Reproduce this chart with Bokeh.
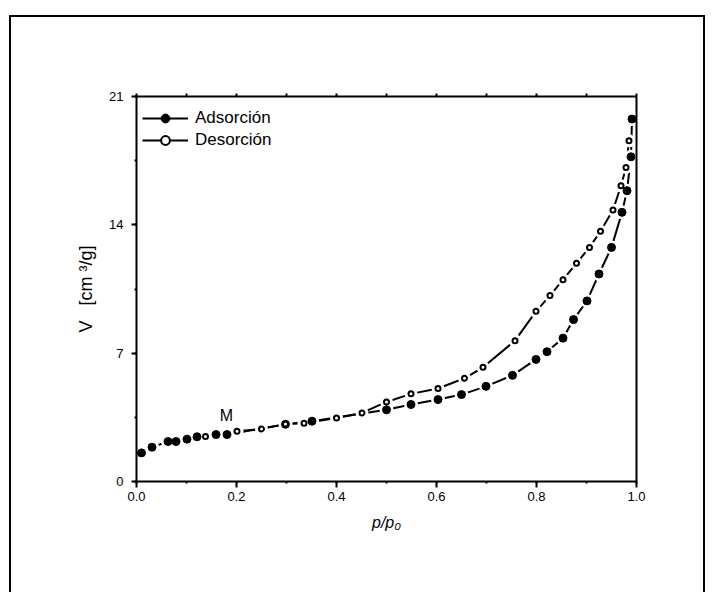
from bokeh.plotting import figure
from bokeh.models import (Range1d, LinearAxis, SingleIntervalTicker, FixedTicker,
                          PrintfTickFormatter, Legend, LegendItem, Label)
from bokeh.embed import file_html
from bokeh.resources import INLINE

# ---- data ----
ads_x = [0.010, 0.031, 0.063, 0.079, 0.101, 0.121, 0.159, 0.181, 0.298, 0.351,
         0.500, 0.549, 0.603, 0.650, 0.699, 0.752, 0.799, 0.821, 0.853, 0.874,
         0.901, 0.925, 0.950, 0.971, 0.981, 0.989, 0.991]
ads_y = [1.56, 1.87, 2.18, 2.18, 2.31, 2.44, 2.56, 2.56, 3.12, 3.29,
         3.91, 4.20, 4.47, 4.74, 5.19, 5.79, 6.66, 7.08, 7.82, 8.83,
         9.85, 11.32, 12.77, 14.68, 15.86, 17.71, 19.77]
des_x = [0.985, 0.979, 0.969, 0.953, 0.928, 0.906, 0.880, 0.853, 0.827, 0.799,
         0.757, 0.693, 0.656, 0.603, 0.549, 0.500, 0.451, 0.400, 0.335, 0.298,
         0.250, 0.201, 0.138]
des_y = [18.58, 17.13, 16.13, 14.81, 13.65, 12.77, 11.90, 11.01, 10.14, 9.28,
         7.68, 6.23, 5.63, 5.07, 4.78, 4.34, 3.74, 3.46, 3.18, 3.13,
         2.87, 2.74, 2.45]
series_names = ["Adsorción", "Desorción"]
x_label = "p/p₀"
y_label = "V\u00a0\u00a0\u00a0[cm\u00a0³/g]"
top_minor_ticks = [0.0, 0.1, 0.2, 0.3, 0.4, 0.5, 0.6, 0.7, 0.8, 0.9, 1.0]
note_text = "M"
note_x = 0.18
note_y = 3.6

FONT = "Liberation Sans"

p = figure(frame_width=500, frame_height=385,
           x_range=Range1d(0, 1), y_range=Range1d(0, 21),
           output_backend="svg", toolbar_location=None,
           min_border_left=125, min_border_right=67,
           min_border_top=79, min_border_bottom=111,
           background_fill_color="white", border_fill_color="white")
p.margin = (17, 0, 0, 11)
p.styles = {"outline": "2px solid black"}
p.grid.visible = False
p.outline_line_color = None

# bottom axis
xa = p.xaxis[0]
xa.ticker = SingleIntervalTicker(interval=0.2, num_minor_ticks=2)
xa.formatter = PrintfTickFormatter(format="%.1f")
xa.axis_line_width = 2
xa.major_tick_line_width = 2
xa.major_tick_out = 6
xa.major_tick_in = 0
xa.minor_tick_out = 2
xa.minor_tick_in = 0
xa.minor_tick_line_width = 2
xa.major_label_text_font = FONT
xa.major_label_text_font_size = "13px"
xa.major_label_text_color = "black"
xa.major_label_standoff = 4
xa.axis_label = x_label
xa.axis_label_text_font = FONT
xa.axis_label_text_font_style = "italic"
xa.axis_label_text_font_size = "16px"
xa.axis_label_text_color = "black"
xa.axis_label_standoff = 10

# left axis
ya = p.yaxis[0]
ya.ticker = SingleIntervalTicker(interval=7, num_minor_ticks=2)
ya.formatter = PrintfTickFormatter(format="%d")
ya.axis_line_width = 2
ya.major_tick_line_width = 2
ya.major_tick_out = 5
ya.major_tick_in = 0
ya.minor_tick_out = 2
ya.minor_tick_in = 0
ya.minor_tick_line_width = 2
ya.major_label_text_font = FONT
ya.major_label_text_font_size = "13px"
ya.major_label_text_color = "black"
ya.major_label_standoff = 8
ya.axis_label = y_label
ya.axis_label_text_font = FONT
ya.axis_label_text_font_style = "normal"
ya.axis_label_text_font_size = "18px"
ya.axis_label_text_color = "black"
ya.axis_label_standoff = 10

# top axis: only small tick marks, no labels
ta = LinearAxis(ticker=FixedTicker(ticks=[], minor_ticks=top_minor_ticks),
                axis_line_width=2, minor_tick_out=3, minor_tick_in=0,
                minor_tick_line_width=2)
p.add_layout(ta, "above")
# right axis: plain line
ra = LinearAxis(ticker=FixedTicker(ticks=[], minor_ticks=[]), axis_line_width=2)
p.add_layout(ra, "right")

# lines
l1 = p.line(ads_x, ads_y, line_color="black", line_width=2)
l2 = p.line(des_x, des_y, line_color="black", line_width=2)
# gaps around symbols
p.scatter(ads_x, ads_y, size=14, marker="circle", fill_color="white", line_color=None)
p.scatter(des_x, des_y, size=13, marker="circle", fill_color="white", line_color=None)
# symbols
m1 = p.scatter(ads_x, ads_y, size=8, marker="circle", fill_color="black", line_color="black", line_width=1)
m2 = p.scatter(des_x, des_y, size=5, marker="circle", fill_color="white", line_color="black", line_width=2)

legend = Legend(items=[LegendItem(label=series_names[0], renderers=[l1, m1]),
                       LegendItem(label=series_names[1], renderers=[l2, m2])],
                location=(6, 330), padding=0, margin=0, spacing=0,
                glyph_width=46, glyph_height=22, label_height=22, label_standoff=7,
                label_text_font=FONT, label_text_font_size="17px",
                label_text_color="black",
                border_line_color=None, background_fill_alpha=0)
p.add_layout(legend)

p.add_layout(Label(x=note_x, y=note_y, text=note_text, text_align="center",
                   text_baseline="middle", text_font=FONT, text_font_size="16px",
                   text_color="black"))

open("out.html", "w").write(file_html(p, INLINE))
